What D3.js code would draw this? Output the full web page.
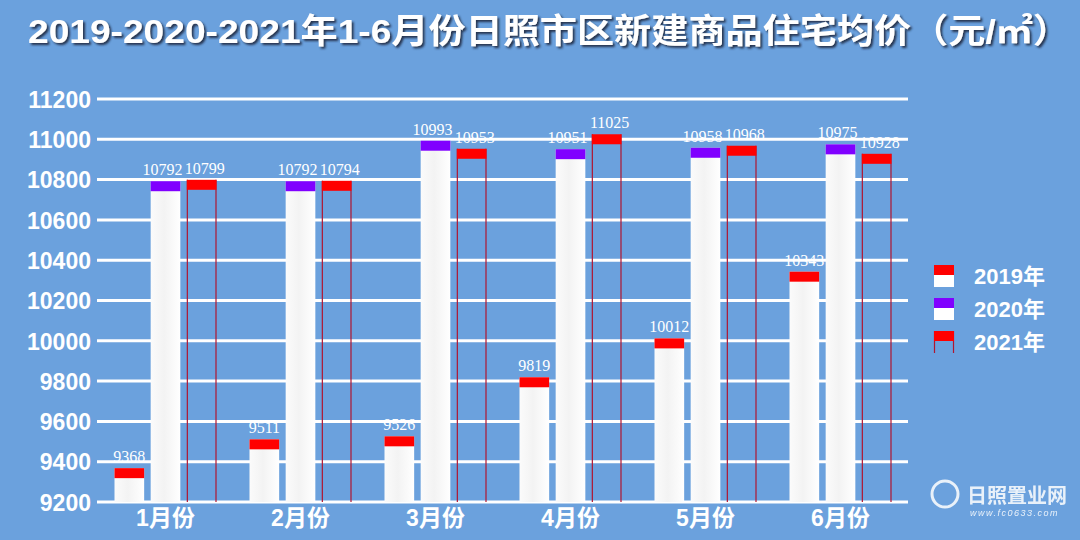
<!DOCTYPE html>
<html><head><meta charset="utf-8">
<script src="https://cdn.jsdelivr.net/npm/d3@7/dist/d3.min.js"></script>
<style>
html,body{margin:0;padding:0;background:#6aa0dc;}
svg{display:block;}
</style></head>
<body>
<svg id="chart" width="1080" height="540"></svg>
<script>
const categories = ["1月份","2月份","3月份","4月份","5月份","6月份"];
const seriesNames = ["2019年","2020年","2021年"];
const values2019 = [9368, 9511, 9526, 9819, 10012, 10343];
const values2020 = [10792, 10792, 10993, 10951, 10958, 10975];
const values2021 = [10799, 10794, 10953, 11025, 10968, 10928];
const yTicks = [9200,9400,9600,9800,10000,10200,10400,10600,10800,11000,11200];
const titleText = "2019-2020-2021年1-6月份日照市区新建商品住宅均价（元/㎡）";

const svg = d3.select("#chart");
const W = 1080, H = 540;
const bg = "#6ba1dd";
svg.append("rect").attr("width", W).attr("height", H).attr("fill", bg);

const defs = svg.append("defs");
const g1 = defs.append("linearGradient").attr("id","barGrad").attr("x1","0").attr("x2","1").attr("y1","0").attr("y2","0");
g1.append("stop").attr("offset","0%").attr("stop-color","#fbfbfb");
g1.append("stop").attr("offset","45%").attr("stop-color","#f3f3f3");
g1.append("stop").attr("offset","100%").attr("stop-color","#ffffff");
const f = defs.append("filter").attr("id","shadow").attr("x","-5%").attr("y","-20%").attr("width","110%").attr("height","150%");
f.append("feDropShadow").attr("dx",2).attr("dy",2).attr("stdDeviation",1).attr("flood-color","#1a2a40").attr("flood-opacity",0.9);

// Title
svg.append("text")
  .attr("x", 28).attr("y", 43)
  .attr("textLength", 1042).attr("lengthAdjust","spacingAndGlyphs")
  .attr("fill","#ffffff")
  .attr("font-family","'Liberation Sans','Noto Sans CJK SC',sans-serif")
  .attr("font-weight","bold").attr("font-size",34)
  .attr("filter","url(#shadow)")
  .text(titleText);

const x0 = d3.scaleBand().domain(categories).range([98, 908]).paddingInner(0).paddingOuter(0);
const y = d3.scaleLinear().domain([9200, 11200]).range([502, 99]);
const x1 = d3.scaleBand().domain(seriesNames).range([16.5, 135 - 16.5]).paddingInner(0.18).paddingOuter(0);

// Gridlines
svg.append("g").selectAll("line").data(yTicks).join("line")
  .attr("x1", 97).attr("x2", 908)
  .attr("y1", d => y(d)).attr("y2", d => y(d))
  .attr("stroke", "#ffffff").attr("stroke-width", 3);

// Y axis labels
const yAxis = d3.axisLeft(y).tickValues(yTicks).tickSize(0).tickPadding(0).tickFormat(d3.format("d"));
const ya = svg.append("g").attr("transform","translate(91,0)").call(yAxis);
ya.select(".domain").remove();
ya.selectAll("text").attr("fill","#ffffff").attr("font-size",23).attr("font-weight","bold")
  .attr("font-family","'Liberation Sans',Arial,sans-serif").attr("dy","0.36em");

// X axis labels
const xAxis = d3.axisBottom(x0).tickSize(0).tickPadding(0);
const xa = svg.append("g").attr("transform","translate(0,504)").call(xAxis);
xa.select(".domain").remove();
xa.selectAll("text").attr("fill","#ffffff").attr("font-size",23).attr("font-weight","bold")
  .attr("font-family","'Liberation Sans','Noto Sans CJK SC',sans-serif").attr("dy","0.95em");

const data = categories.map((c, i) => ({cat: c, vals: [values2019[i], values2020[i], values2021[i]]}));
const capH = 10;
const capColors = ["#ff0000", "#8000ff", "#ff0000"];

const groups = svg.append("g").selectAll("g").data(data).join("g")
  .attr("transform", d => `translate(${x0(d.cat)},0)`);

groups.each(function(d) {
  const g = d3.select(this);
  d.vals.forEach((v, k) => {
    const name = seriesNames[k];
    const bx = x1(name), bw = x1.bandwidth();
    const top = y(v);
    if (k < 2) {
      g.append("rect").attr("x", bx).attr("y", top).attr("width", bw).attr("height", y(9200) - top)
        .attr("fill", "url(#barGrad)");
    } else {
      g.append("line").attr("x1", bx + 0.5).attr("x2", bx + 0.5).attr("y1", top).attr("y2", y(9200))
        .attr("stroke", "#b01530").attr("stroke-width", 1.2);
      g.append("line").attr("x1", bx + bw - 0.5).attr("x2", bx + bw - 0.5).attr("y1", top).attr("y2", y(9200))
        .attr("stroke", "#b01530").attr("stroke-width", 1.2);
    }
    g.append("rect").attr("x", bx).attr("y", top).attr("width", bw).attr("height", capH)
      .attr("fill", capColors[k]);
  });
});

// Value labels
const labelShift = [0, -3, 3];
groups.each(function(d) {
  const g = d3.select(this);
  d.vals.forEach((v, k) => {
    const name = seriesNames[k];
    g.append("text")
      .attr("x", x1(name) + x1.bandwidth() / 2 + labelShift[k])
      .attr("y", y(v) - 6)
      .attr("text-anchor", "middle")
      .attr("fill", "#ffffff")
      .attr("font-family", "'Liberation Serif','Times New Roman',serif")
      .attr("font-size", 16)
      .text(v);
  });
});

// Legend
const legend = svg.append("g").attr("transform","translate(934,265)");
seriesNames.forEach((name, k) => {
  const lg = legend.append("g").attr("transform", `translate(0,${k * 33})`);
  if (k < 2) {
    lg.append("rect").attr("x",0).attr("y",0).attr("width",20).attr("height",22).attr("fill","#ffffff");
  } else {
    lg.append("line").attr("x1",0.5).attr("x2",0.5).attr("y1",0).attr("y2",22).attr("stroke","#b01530").attr("stroke-width",1.2);
    lg.append("line").attr("x1",19.5).attr("x2",19.5).attr("y1",0).attr("y2",22).attr("stroke","#b01530").attr("stroke-width",1.2);
  }
  lg.append("rect").attr("x",0).attr("y",0).attr("width",20).attr("height",10).attr("fill",capColors[k]);
  lg.append("text").attr("x",40).attr("y",11).attr("dy","0.36em")
    .attr("fill","#ffffff").attr("font-size",22).attr("font-weight","bold")
    .attr("font-family","'Liberation Sans','Noto Sans CJK SC',sans-serif")
    .text(name);
});

// Brand mark bottom right
const brand = svg.append("g").attr("transform","translate(915,470)").attr("opacity",0.85);
brand.append("circle").attr("cx",30).attr("cy",24).attr("r",13).attr("fill","none").attr("stroke","#ffffff").attr("stroke-width",3);
brand.append("text").attr("x",52).attr("y",33).attr("fill","#ffffff").attr("font-size",20)
  .attr("font-family","'Noto Sans CJK SC',sans-serif").attr("font-weight","bold").text("日照置业网");
brand.append("text").attr("x",55).attr("y",46).attr("fill","#ffffff").attr("font-size",9).attr("font-style","italic")
  .attr("font-family","'Liberation Sans',sans-serif").attr("letter-spacing",1.5).text("www.fc0633.com");
</script>
</body></html>
